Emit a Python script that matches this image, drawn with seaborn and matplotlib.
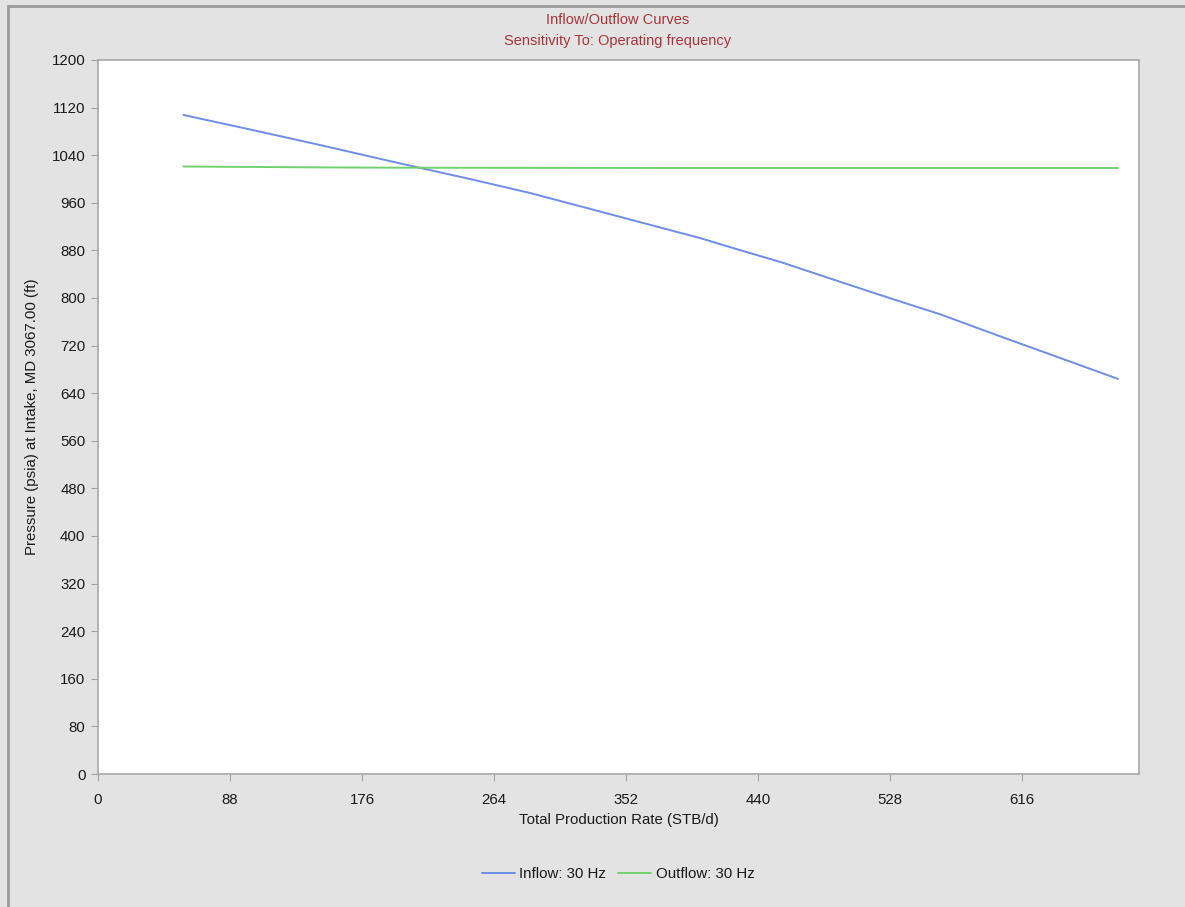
import pandas as pd
import matplotlib.pyplot as plt
import seaborn as sns
from matplotlib.patches import Rectangle

# --- Dados ---
inflow_rate = [57, 100, 150, 200, 248, 288, 330, 361, 401, 430, 455, 495, 530, 561, 601, 640, 680]
inflow_pressure = [1107.6, 1084, 1056, 1027, 1000, 976.5, 948.5, 927.7, 901, 879, 860.5, 827, 798, 773, 736, 700.5, 664]
outflow_rate = [57, 100, 150, 200, 300, 400, 500, 600, 680]
outflow_pressure = [1021, 1020.3, 1019.5, 1019, 1018.7, 1018.5, 1018.5, 1018.5, 1018.5]
x_ticks = [0, 88, 176, 264, 352, 440, 528, 616]
y_ticks = list(range(0, 1201, 80))

df = pd.concat([
    pd.DataFrame({'rate': inflow_rate, 'pressure': inflow_pressure, 'curva': 'Inflow: 30 Hz'}),
    pd.DataFrame({'rate': outflow_rate, 'pressure': outflow_pressure, 'curva': 'Outflow: 30 Hz'}),
])

sns.set_theme(style="white")
plt.rcParams['font.family'] = ['Liberation Sans', 'DejaVu Sans']

BG = '#e3e3e3'
fig = plt.figure(figsize=(11.85, 9.07), dpi=100, facecolor=BG)
ax = fig.add_axes([98 / 1185, 1 - 774 / 907, (1139 - 98) / 1185, (774 - 60) / 907])
ax.set_facecolor('white')

sns.lineplot(data=df, x='rate', y='pressure', hue='curva', sort=False,
             palette={'Inflow: 30 Hz': '#6d8ee6', 'Outflow: 30 Hz': '#6fd26f'},
             linewidth=1.4, ax=ax)

ax.set_xlim(0, 694)
ax.set_ylim(0, 1200)
ax.set_xticks(x_ticks)
ax.set_yticks(y_ticks)
ax.tick_params(axis='both', which='both', direction='out', length=5, width=0.8,
               color='#a0a0a0', labelsize=10.8, labelcolor='#1a1a1a', bottom=True, left=True)
ax.tick_params(axis='x', pad=9)
ax.tick_params(axis='y', pad=4)
for s in ax.spines.values():
    s.set_color('#a8a8a8')
    s.set_linewidth(1.2)

ax.set_xlabel('Total Production Rate (STB/d)', fontsize=10.8, color='#1a1a1a', labelpad=4)
ax.set_ylabel('Pressure (psia) at Intake, MD 3067.00 (ft)', fontsize=10.8, color='#1a1a1a', labelpad=9)

fig.text(618 / 1185, 1 - 20 / 907, 'Inflow/Outflow Curves', ha='center', va='center',
         fontsize=10.5, color='#a8343a')
fig.text(618 / 1185, 1 - 41 / 907, 'Sensitivity To: Operating frequency', ha='center', va='center',
         fontsize=10.5, color='#a8343a')

handles, labels = ax.get_legend_handles_labels()
ax.legend_.remove()
fig.legend(handles, labels, loc='center', bbox_to_anchor=(618 / 1185, 1 - 874 / 907),
           ncol=2, frameon=False, fontsize=10.8, handlelength=2.2, handletextpad=0.3,
           columnspacing=0.8, labelcolor='#1a1a1a')

# moldura cinza da janela
fig.patches.append(Rectangle((8 / 1185, -0.01), 1.2, 1 - 6 / 907 + 0.01, transform=fig.transFigure,
                             fill=False, edgecolor='#9a9a9a', linewidth=2))

plt.savefig('out.png', dpi=100, facecolor=BG)
